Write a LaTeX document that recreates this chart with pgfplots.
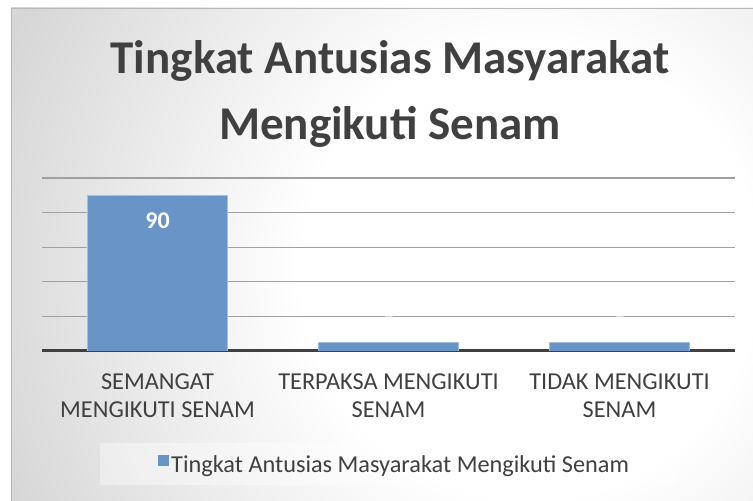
\documentclass[border=0pt]{standalone}
\usepackage{pgfplots}
\pgfplotsset{compat=1.18}
\usetikzlibrary{backgrounds}
\usepackage{fontspec}
\setmainfont{Carlito}
\definecolor{barblue}{RGB}{104,148,199}
\definecolor{txt}{RGB}{64,64,64}
\definecolor{gridc}{RGB}{160,160,160}
\definecolor{bgmid}{RGB}{214,214,214}
\definecolor{bgedge}{RGB}{192,192,192}
\pgfdeclareradialshading{bgshade}{\pgfpoint{0bp}{0bp}}{color(0bp)=(white); color(6bp)=(white); color(15bp)=(bgmid); color(25bp)=(bgedge); color(50bp)=(bgedge)}
\begin{document}
\begin{tikzpicture}[x=1bp,y=1bp]
\begin{axis}[
  name=ax, scale only axis,
  width=693bp, height=173bp,
  xmin=-0.5, xmax=2.5, ymin=0, ymax=100,
  ybar, bar width=0.606,
  axis line style={draw=none},
  major tick length=0,
  ytick={20,40,60,80,100}, yticklabels={},
  ymajorgrids, grid style={gridc, line width=1.3bp},
  extra y ticks={0}, extra y tick labels={},
  extra y tick style={grid style={txt, line width=3bp}},
  xtick={0,1,2},
  xticklabels={{SEMANGAT\\MENGIKUTI SENAM},{TERPAKSA MENGIKUTI\\SENAM},{TIDAK MENGIKUTI\\SENAM}},
  xticklabel style={align=center, font=\fontsize{24.3bp}{28bp}\selectfont, text=txt, yshift=-19bp},
  /pgf/number format/assume math mode=true,
  nodes near coords,
  nodes near coords style={font=\fontsize{24bp}{28bp}\selectfont\bfseries, text=white, anchor=center},
  visualization depends on={y \as \rawy},
  every node near coord/.append style={yshift={ifthenelse(\rawy>50,-26,18)}},
  legend style={at={(axis description cs:0.509,-0.655)}, anchor=center, draw=none, fill=none,
    font=\fontsize{24.3bp}{28bp}\selectfont, text=txt, legend cell align=left},
  legend image code/.code={\fill[barblue] (0bp,-1bp) rectangle (10bp,9bp);},
]
\coordinate (o) at (axis cs:-0.5,0);
\addplot[fill=barblue, draw=barblue!60!white, line width=0.8bp] coordinates {(0,90) (1,5) (2,5)};
\addlegendentry{Tingkat Antusias Masyarakat Mengikuti Senam}
\end{axis}
\begin{scope}[on background layer, shift={(o)}, shift={(-42,-150)}]
\fill[white] (0,0) rectangle (753,501);
\begin{scope}
\clip (11,0) rectangle (753,493);
\shade[shading=bgshade] (530,230) circle (950);
\end{scope}
\draw[black!28, line width=1bp] (11.5,0) -- (11.5,492.5) -- (753,492.5);
\fill[white, opacity=0.4] (100,16) rectangle (678,58);
\end{scope}
\begin{scope}[shift={(o)}, shift={(-42,-150)}]
\node[anchor=base, font=\fontsize{47bp}{56bp}\selectfont\bfseries, text=txt] at (390,427) {Tingkat Antusias Masyarakat};
\node[anchor=base, font=\fontsize{47bp}{56bp}\selectfont\bfseries, text=txt] at (390,361) {Mengikuti Senam};
\end{scope}
\pgfresetboundingbox
\path[shift={(o)}, shift={(-42,-150)}] (0,0) rectangle (753,501);
\end{tikzpicture}
\end{document}
